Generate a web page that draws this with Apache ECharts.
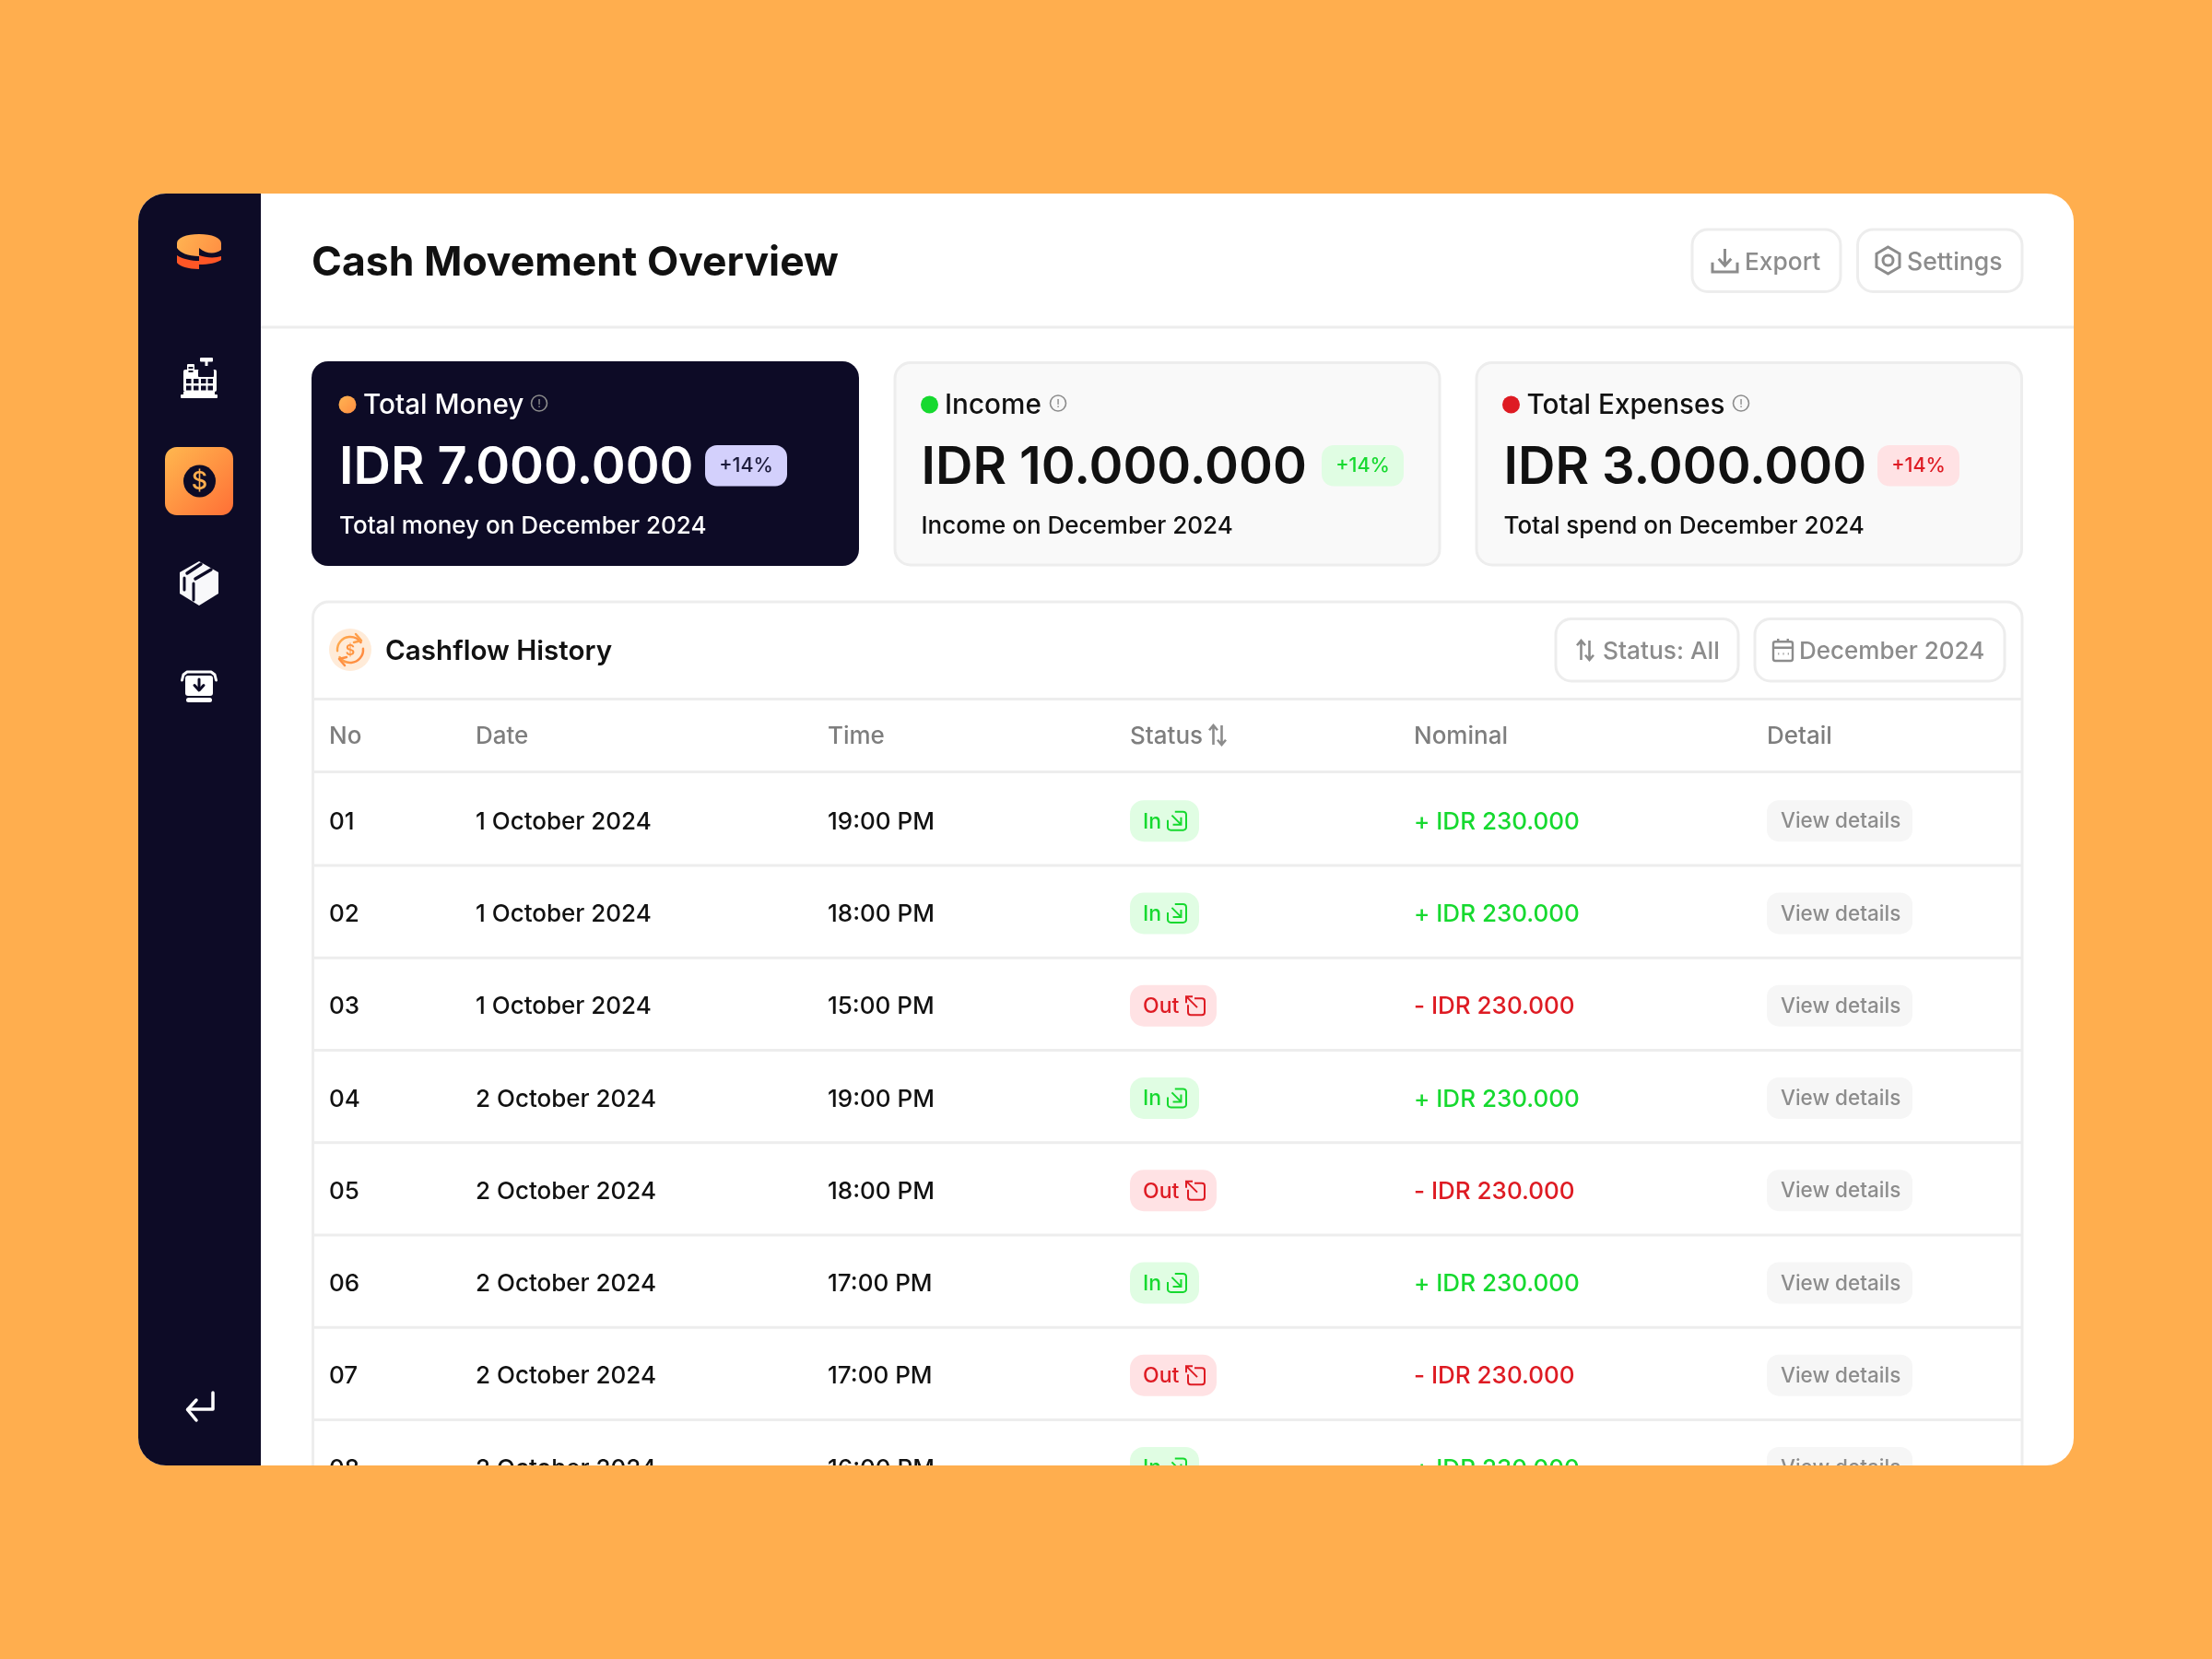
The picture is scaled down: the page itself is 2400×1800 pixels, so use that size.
<!DOCTYPE html>
<html><head><meta charset="utf-8">
<style>html,body{margin:0;padding:0;background:#FFAE4E}#c{width:2400px;height:1800px}</style>
<script src="https://cdn.jsdelivr.net/npm/echarts@6/dist/echarts.min.js"></script>
</head><body><div id="c"></div>
<script>
// ---- data ----
const pageTitle = 'Cash Movement Overview';
const kpiTitles = ['Total Money', 'Income', 'Total Expenses'];
const kpiValues = ['IDR 7.000.000', 'IDR 10.000.000', 'IDR 3.000.000'];
const kpiNotes = ['Total money on December 2024', 'Income on December 2024', 'Total spend on December 2024'];
const kpiBadges = ['+14%', '+14%', '+14%'];
const tableTitle = 'Cashflow History';
const columnNames = ['No', 'Date', 'Time', 'Status', 'Nominal', 'Detail'];
const rowNos = ['01', '02', '03', '04', '05', '06', '07', '08'];
const rowDates = ['1 October 2024', '1 October 2024', '1 October 2024', '2 October 2024', '2 October 2024', '2 October 2024', '2 October 2024', '2 October 2024'];
const rowTimes = ['19:00 PM', '18:00 PM', '15:00 PM', '19:00 PM', '18:00 PM', '17:00 PM', '17:00 PM', '16:00 PM'];
const rowStatus = ['In', 'In', 'Out', 'In', 'Out', 'In', 'Out', 'In'];
const rowNominal = [230000, 230000, 230000, 230000, 230000, 230000, 230000, 230000];
const detailLabel = 'View details';

// ---- style ----
const FONT = 'Inter, "Noto Sans", sans-serif';
const DARK = '#0D0B26', INK = '#111111', GREY = '#8C8C8C', LINE = '#EDEDED', ORANGE = '#FFAE4E';
const GREEN = '#16D92F', RED = '#DE1B23', GREEN_BG = '#E0FDE3', RED_BG = '#FFE2E4';
const colX = [357, 516, 898, 1226, 1534, 1917];

const g = [];
const icons = [];
const T = (text, x, y, size, weight, fill, extra) => g.push({type: 'text', z: 3, silent: true, x, y,
  style: Object.assign({text, fill, font: `${weight} ${size}px ${FONT}`, textAlign: 'left', textVerticalAlign: 'middle'}, extra || {})});
const R = (x, y, w, h, r, fill, stroke, lw, z) => g.push({type: 'rect', z: z || 2, silent: true,
  shape: {x, y, width: w, height: h, r}, style: {fill: fill || 'none', stroke: stroke || 'none', lineWidth: lw || 0}});
const L = (pts, stroke, lw, fill) => g.push({type: 'polyline', z: 3, silent: true, shape: {points: pts},
  style: {stroke, lineWidth: lw, fill: fill || 'none', lineCap: 'round', lineJoin: 'round'}});
const F = (pts, fill) => g.push({type: 'polygon', z: 3, silent: true, shape: {points: pts}, style: {fill}});
const P = (d, x, y, w, h, style) => icons.push({type: 'path',
  shape: {pathData: d, x, y, width: w, height: h, layout: 'cover'}, style: Object.assign({fill: 'none'}, style)});
const C = (cx, cy, r, fill, stroke, lw) => g.push({type: 'circle', z: 3, silent: true, shape: {cx, cy, r},
  style: {fill: fill || 'none', stroke: stroke || 'none', lineWidth: lw || 0}});
const A = (cx, cy, r, s, e, stroke, lw) => g.push({type: 'arc', z: 3, silent: true,
  shape: {cx, cy, r, startAngle: s * Math.PI / 180, endAngle: e * Math.PI / 180, clockwise: true},
  style: {stroke, lineWidth: lw, fill: 'none', lineCap: 'round'}});
const grad = (a, b, x2, y2) => new echarts.graphic.LinearGradient(0, 0, x2, y2, [{offset: 0, color: a}, {offset: 1, color: b}]);

// panel and sidebar
R(150, 210, 2100, 1380, 30, '#FFFFFF', null, 0, 1);
R(150, 210, 133, 1380, [30, 0, 0, 30], DARK, null, 0, 1);
R(283, 353.5, 1967, 3, 0, LINE);

// logo
P('M0 10C0 4 10 0 24 0S48 4 48 10V17C42 22 32 22 24 15V24C12 24 3 20 0 15Z', 192, 254, 48, 24, {fill: grad('#FFB452', '#FF8E42', 1, 1)});
P('M0 0C6 4 16 6 24 6V15C12 15 3 12 0 8Z', 192, 277, 24, 15, {fill: '#FF5626'});
P('M0 0C8 3 18 3 24 1V5C20 8 10 10 0 10Z', 216, 277, 24, 10, {fill: '#FF5626'});

// register icon
R(217, 388, 14, 4.5, 1, '#FFFFFF');
R(222.5, 392, 3, 5, 0, '#FFFFFF');
R(199, 401, 36, 24, 2, '#FFFFFF');
R(203, 395, 8, 13, 1, '#FFFFFF');
R(204.5, 398, 5, 2, 0, DARK, null, 0, 3);
R(204.5, 402, 5, 2, 0, DARK, null, 0, 3);
R(215, 401, 17, 8, 1, DARK, null, 0, 3);
[202, 210, 218, 225.5].forEach(x => { R(x, 411, 5.5, 5, 0, DARK, null, 0, 3); R(x, 418.5, 5.5, 5, 0, DARK, null, 0, 3); });
R(196, 428, 40, 4, 1, '#FFFFFF');
R(199, 425, 34, 3, 0, '#FFFFFF');

// active tile
g.push({type: 'rect', z: 2, silent: true, shape: {x: 179, y: 485, width: 74, height: 74, r: 13}, style: {fill: grad('#FFB84F', '#FF6F36', 1, 1)}});
C(216.5, 522, 17.5, DARK);
T('$', 216.5, 523, 27, 500, '#FFAE4E', {textAlign: 'center'});

// box icon
F([[216, 609], [237, 621], [237, 644], [216, 657], [195, 644], [195, 621]], '#F8F8FA');
L([[203, 622], [218, 612]], DARK, 3.5);
L([[212, 628], [229, 618]], DARK, 3.5);
L([[200, 627], [200, 640]], DARK, 3);
L([[210, 633], [210, 651]], DARK, 3);

// inbox icon
L([[197.5, 738], [199, 732], [203, 729], [229, 729], [233, 732], [234.5, 738]], '#FFFFFF', 3);
R(201, 733, 30, 22, 3, '#FFFFFF');
L([[216, 737], [216, 748]], DARK, 3);
L([[211, 743.5], [216, 749], [221, 743.5]], DARK, 3);
R(202, 757, 28, 5, 2.5, '#FFFFFF');

// return icon
L([[231, 1511], [231, 1529], [204, 1529]], '#FFFFFF', 3.5);
L([[213, 1519], [203.5, 1529.5], [213, 1541]], '#FFFFFF', 3.5);

// header
T(pageTitle, 338, 285.5, 44.5, 700, INK);
R(1836, 249, 161, 67.5, 17, '#FFFFFF', LINE, 3);
R(2015.5, 249, 178.5, 67.5, 17, '#FFFFFF', LINE, 3);
P('M12 2V15M6.5 10L12 15.5L17.5 10M1 13V20.5H23V13', 1858, 270, 27, 25, {stroke: GREY, lineWidth: 3});
T('Export', 1893, 285, 26.3, 500, GREY);
P('M12 0L22 6V18L12 24L2 18V6Z', 2036, 268, 25, 29, {stroke: GREY, lineWidth: 3});
C(2048.5, 282.5, 5.5, null, GREY, 3);
T('Settings', 2069, 285, 26.6, 500, GREY);

// KPI cards
const cardX = [338, 969.5, 1600.5];
const cardW = [594, 594, 594.5];
const textX = [368, 999.5, 1631.5];
const dotFill = [grad('#FFB452', '#FF8E42', 1, 1), GREEN, RED];
const labelX = [394, 1025, 1656.5];
const infoX = [585, 1148, 1889];
const badgeX = [765, 1434, 2037];
const badgeBg = ['#D3D0FC', GREEN_BG, RED_BG];
const badgeFg = ['#1B1A3A', GREEN, RED];
kpiTitles.forEach((t, i) => {
  const dark = i === 0, x = cardX[i], fg = dark ? '#FFFFFF' : INK;
  if (dark) R(x, 392, cardW[i], 222, 18, DARK);
  else R(x + 1.5, 393.5, cardW[i] - 3, 219.5, 17, '#F9F9F9', LINE, 3);
  C(x + 39, 439, 9.5, dotFill[i]);
  T(t, labelX[i], 440.5, 29.7, 500, fg);
  C(infoX[i], 437.5, 8.5, null, '#8C8C8C', 1.6);
  T('!', infoX[i], 438, 12, 500, '#8C8C8C', {textAlign: 'center'});
  T(kpiValues[i], textX[i], 508, 56, 600, fg);
  R(badgeX[i], 483, 89, 44.5, 13, badgeBg[i], null, 0, 3);
  T(kpiBadges[i], badgeX[i] + 44.5, 506, 21.5, 500, badgeFg[i], {textAlign: 'center'});
  T(kpiNotes[i], textX[i], 571, 26, 500, fg);
});

// table card
R(339.5, 653, 1854.5, 1100, 17, '#FFFFFF', LINE, 3);
R(339, 757, 1855, 3, 0, LINE);
R(339, 836, 1855, 3, 0, LINE);
C(380, 705, 23, '#FFEBD8');
const arrowFill = grad('#FFB452', '#FF7E3A', 1, 1);
A(380, 705, 14, 175, 325, arrowFill, 2.5);
A(380, 705, 14, -5, 145, arrowFill, 2.5);
L([[386, 688], [392, 695], [384, 697]], '#FF9F4A', 2.5);
L([[374, 722], [368, 715], [376, 713]], '#FF8F42', 2.5);
T('$', 380, 706, 16, 600, '#FF9440', {textAlign: 'center'});
T(tableTitle, 418, 707, 29.6, 600, INK);
R(1688, 671.5, 198, 67.5, 17, '#FFFFFF', LINE, 3);
R(1904, 671.5, 271, 67.5, 17, '#FFFFFF', LINE, 3);
P('M7 22V2M2 7L7 2L12 7M17 2V22M12 17L17 22L22 17', 1711, 695, 18, 21, {stroke: GREY, lineWidth: 2.6});
T('Status: All', 1739, 707, 26.3, 500, GREY);
P('M4 3H20A2 2 0 0 1 22 5V20A2 2 0 0 1 20 22H4A2 2 0 0 1 2 20V5A2 2 0 0 1 4 3ZM2 9H22M7 0V4M17 0V4M7 15H8M12 15H13M17 15H18', 1924, 693, 21, 24, {stroke: GREY, lineWidth: 2.4});
T('December 2024', 1952, 707, 26, 500, GREY);
columnNames.forEach((c, i) => T(c, colX[i], 799.5, 26, 500, '#7E7E7E'));
P('M7 22V2M2 7L7 2L12 7M17 2V22M12 17L17 22L22 17', 1312, 787, 18, 21, {stroke: GREY, lineWidth: 2.6});

// mask under the panel: rows past the panel edge are cut off
R(0, 1590, 2400, 210, 0, ORANGE, null, 0, 100);

// ---- table rows, positioned by the row axis ----
const IN_ICON = 'M2 9V17A3 3 0 0 0 5 20H17A3 3 0 0 0 20 17V3A3 3 0 0 0 17 0H9M6 4L15 14M15 6V14H7';
const OUT_ICON = 'M2 9V17A3 3 0 0 0 5 20H17A3 3 0 0 0 20 17V5A3 3 0 0 0 17 2H9M0 0L12 12M0 7V0H7';
const fmt = n => String(n).replace(/\B(?=(\d{3})+$)/g, '.');
const txt = (text, x, y, size, fill, weight) => ({type: 'text', style: {text, x, y, fill,
  font: `${weight || 500} ${size}px ${FONT}`, textAlign: 'left', textVerticalAlign: 'middle'}});
function renderRow(params, api) {
  const i = api.value(1);
  const y = api.coord([0, i])[1] + 0.5;
  const h = api.size([0, 1])[1];
  const X = k => api.coord([colX[k], i])[0];
  const isIn = rowStatus[i] === 'In';
  const fg = isIn ? GREEN : RED, bg = isIn ? GREEN_BG : RED_BG;
  const pillW = isIn ? 75 : 94;
  const iconX = isIn ? X(3) + 41 : X(3) + 61;
  return {type: 'group', children: [
    {type: 'rect', shape: {x: 339, y: y + h / 2 - 3.3, width: 1855, height: 3}, style: {fill: LINE}},
    txt(rowNos[i], X(0), y + 1.5, 26, INK),
    txt(rowDates[i], X(1), y + 1.5, 26, INK),
    txt(rowTimes[i], X(2), y + 1.5, 26, INK),
    {type: 'rect', shape: {x: X(3), y: y - 22.5, width: pillW, height: 45, r: 15}, style: {fill: bg}},
    txt(rowStatus[i], X(3) + 14, y + 1, 23, fg),
    {type: 'path', shape: {pathData: isIn ? IN_ICON : OUT_ICON, x: iconX, y: y - 10, width: 20, height: 20, layout: 'cover'},
      style: {stroke: fg, lineWidth: 2, fill: 'none'}},
    txt((isIn ? '+ ' : '- ') + 'IDR ' + fmt(rowNominal[i]), X(4), y + 1.5, 26, fg),
    {type: 'rect', shape: {x: X(5), y: y - 22.5, width: 158, height: 45, r: 13}, style: {fill: '#F6F6F6'}},
    txt(detailLabel, X(5) + 15, y + 1, 22.5, GREY)
  ]};
}

const chart = echarts.init(document.getElementById('c'), null, {renderer: 'canvas'});
chart.setOption({
  animation: false,
  backgroundColor: ORANGE,
  grid: {left: 0, top: 840, width: 2400, height: 802},
  xAxis: {type: 'value', min: 0, max: 2400, show: false},
  yAxis: {type: 'category', data: rowNos, inverse: true, show: false},
  graphic: {elements: g},
  series: [
    {type: 'custom', z: 5, silent: true, clip: false, renderItem: renderRow,
      encode: {x: 0, y: 1}, data: rowNos.map((n, i) => [0, i])},
    {type: 'custom', z: 4, silent: true, clip: false,
      renderItem: () => ({type: 'group', children: icons}), data: [[0, 0]]}
  ]
});
</script></body></html>
